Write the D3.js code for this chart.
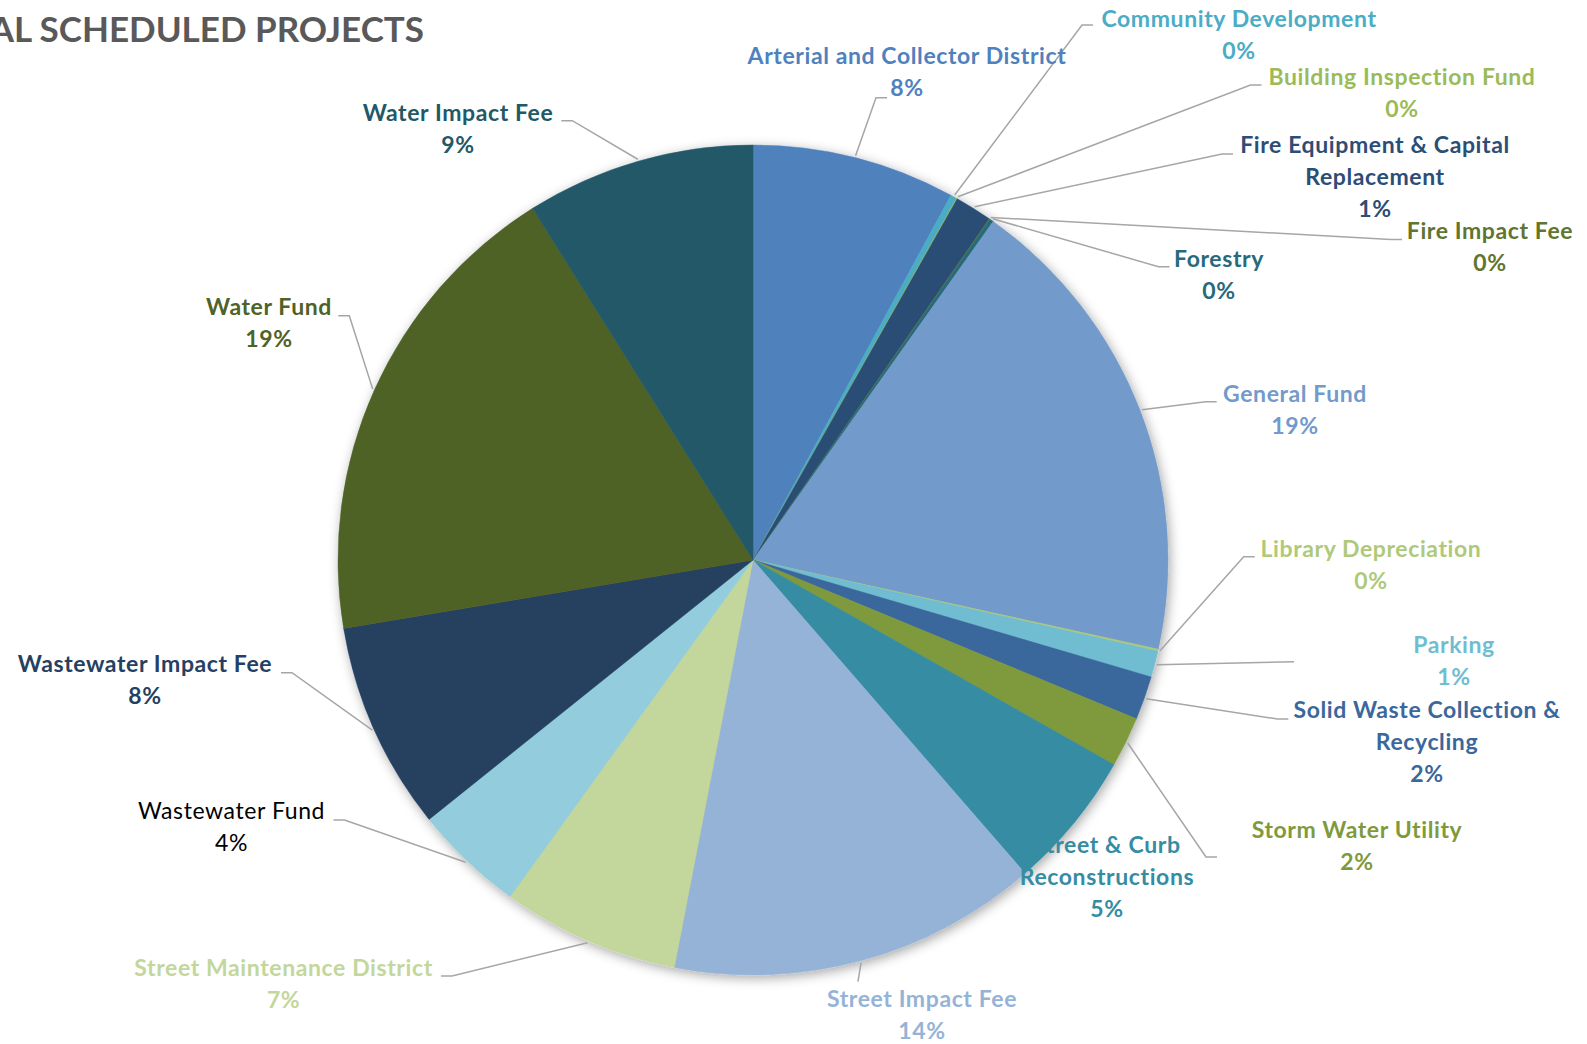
<!DOCTYPE html>
<html>
<head>
<meta charset="utf-8">
<script src="https://cdn.jsdelivr.net/npm/d3@7"></script>
<style>
  html, body { margin: 0; padding: 0; background: #ffffff; }
  svg { display: block; }
  text { font-family: Lato, "Open Sans", sans-serif; }
</style>
</head>
<body>
<svg id="chart" width="1587" height="1044"></svg>
<script>
// Capital projects by funding source (share of total, %)
const categories = [
  "Arterial and Collector District",
  "Community Development",
  "Building Inspection Fund",
  "Fire Equipment & Capital Replacement",
  "Fire Impact Fee",
  "Forestry",
  "General Fund",
  "Library Depreciation",
  "Parking",
  "Solid Waste Collection & Recycling",
  "Storm Water Utility",
  "Street & Curb Reconstructions",
  "Street Impact Fee",
  "Street Maintenance District",
  "Wastewater Fund",
  "Wastewater Impact Fee",
  "Water Fund",
  "Water Impact Fee"
];
const shares = [7.9, 0.25, 0.03, 1.45, 0.03, 0.15, 18.6, 0.08, 1.02, 1.7, 1.96, 5.4, 14.4, 6.9, 4.3, 8.1, 18.7, 8.9];

const sliceColors = [
  "#4f81bd", "#4bacc6", "#9bbb59", "#2c4d75", "#5f7530", "#276a7c",
  "#729aca", "#afc97a", "#6fbdd1", "#3a679c", "#7f9a3d", "#358ca3",
  "#95b3d7", "#c3d69b", "#93cddd", "#254061", "#4f6228", "#215968"
];
// label text colours (Wastewater Fund keeps the default black)
const labelColors = sliceColors.map((c, i) => categories[i] === "Wastewater Fund" ? "#000000" : c);

// label placement: centre x, first baseline, leader end point, leader tick direction
const labelLayout = [
  { cx: 907,  by: 64,    end: [887, 97.7],   dir: 1 },
  { cx: 1239, by: 27,    end: [1093, 25],    dir: 1 },
  { cx: 1402, by: 85,    end: [1261.5, 85],  dir: 1 },
  { cx: 1375, by: 153,   end: [1233, 154],   dir: 1, breakAfter: 4 },
  { cx: 1490, by: 239,   end: [1402, 239.5], dir: 1 },
  { cx: 1219, by: 266.7, end: [1169.5, 266.7], dir: 1 },
  { cx: 1295, by: 401.7, end: [1216.7, 401.7], dir: 1 },
  { cx: 1371, by: 556.7, end: [1254.7, 556.7], dir: 1 },
  { cx: 1454, by: 653.3, end: [1294, 661.7], dir: 0 },
  { cx: 1427, by: 718.3, end: [1288.4, 719],  dir: 1, breakAfter: 4 },
  { cx: 1357, by: 838.3, end: [1217, 857],    dir: 1 },
  { cx: 1107, by: 853.3, end: null,           dir: 0, breakAfter: 3 },
  { cx: 922,  by: 1006.7, end: [858, 981.7],  dir: 0 },
  { cx: 283.6, by: 976,  end: [441, 976],     dir: -1 },
  { cx: 231.5, by: 819.3, end: [333.5, 820],  dir: -1, normal: true },
  { cx: 145,  by: 671.7, end: [281, 672.7],   dir: -1 },
  { cx: 269,  by: 315,   end: [338.3, 315.7], dir: -1 },
  { cx: 458,  by: 120.7, end: [561.3, 120.7], dir: -1 }
];

const data = categories.map((name, i) => ({ name, value: shares[i], i }));
const total = d3.sum(shares);

const svg = d3.select("#chart");
const cx = 753, cy = 560, radius = 415;
const lineHeight = 32;

// soft outer shadow under the pie
const defs = svg.append("defs");
const f = defs.append("filter").attr("id", "pieShadow")
  .attr("x", "-20%").attr("y", "-20%").attr("width", "140%").attr("height", "140%");
f.append("feDropShadow").attr("dx", 2).attr("dy", 3).attr("stdDeviation", 6)
  .attr("flood-color", "#000").attr("flood-opacity", 0.35);

// title
svg.append("text")
  .attr("x", 424).attr("y", 42)
  .attr("text-anchor", "end")
  .attr("font-size", 35).attr("font-weight", 700)
  .attr("fill", "#595959")
  .text("TOTAL SCHEDULED PROJECTS");

const pie = d3.pie().sort(null).value(d => d.value);
const arcs = pie(data);
const arc = d3.arc().innerRadius(0).outerRadius(radius);

const g = svg.append("g").attr("transform", `translate(${cx},${cy})`);

g.append("g").attr("filter", "url(#pieShadow)")
  .selectAll("path").data(arcs).join("path")
  .attr("d", arc)
  .attr("fill", d => sliceColors[d.data.i])
  .attr("stroke", d => sliceColors[d.data.i])
  .attr("stroke-width", 0.5);

// leader lines from each slice's mid-angle on the rim
const tick = 11;
const leaders = svg.append("g")
  .attr("fill", "none").attr("stroke", "#a6a6a6").attr("stroke-width", 1.5);
arcs.forEach(a => {
  const L = labelLayout[a.data.i];
  if (!L.end) return;
  const mid = (a.startAngle + a.endAngle) / 2;
  const r = radius + 2;
  const start = [cx + r * Math.sin(mid), cy - r * Math.cos(mid)];
  const pts = [start];
  if (L.dir !== 0) pts.push([L.end[0] - L.dir * tick, L.end[1]]);
  pts.push(L.end);
  leaders.append("path").attr("d", d3.line()(pts));
});

// labels: category name (wrapped where set) and rounded share
const fmt = v => Math.round(v / total * 100) + "%";
const labels = svg.append("g");
arcs.forEach(a => {
  const i = a.data.i;
  const L = labelLayout[i];
  const words = a.data.name.split(" ");
  const lines = L.breakAfter
    ? [words.slice(0, L.breakAfter).join(" "), words.slice(L.breakAfter).join(" ")]
    : [a.data.name];
  lines.push(fmt(a.data.value));
  const t = labels.append("text")
    .attr("text-anchor", "middle")
    .attr("font-size", 23)
    .attr("letter-spacing", 0.6)
    .attr("font-weight", L.normal ? 400 : 700)
    .attr("fill", labelColors[i]);
  lines.forEach((s, k) => {
    t.append("tspan").attr("x", L.cx).attr("y", L.by + k * lineHeight).text(s);
  });
});
</script>
</body>
</html>
